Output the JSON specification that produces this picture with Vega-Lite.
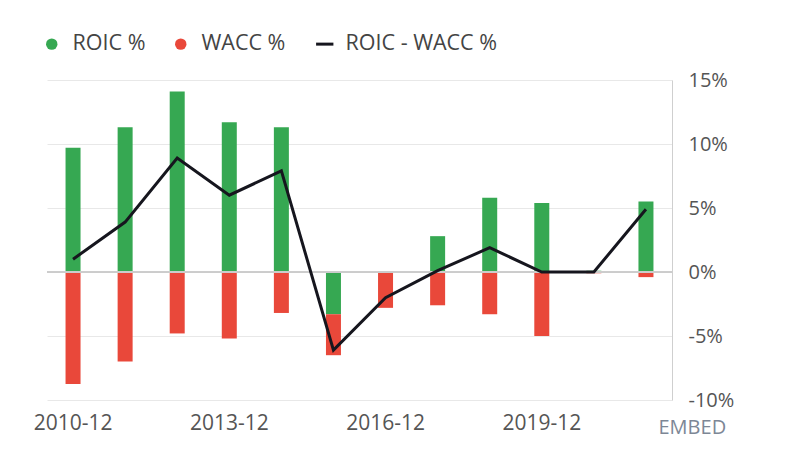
{
  "$schema": "https://vega.github.io/schema/vega-lite/v6.json",
  "autosize": "none",
  "width": 625,
  "height": 320,
  "padding": {"left": 47, "top": 80, "right": 128, "bottom": 59},
  "background": "white",
  "config": {
    "font": "Open Sans",
    "view": {"stroke": null}
  },
  "datasets": {
    "bars": [
      {"year": "2010-12", "series": "ROIC %", "value": 9.7},
      {"year": "2010-12", "series": "WACC %", "value": -8.75},
      {"year": "2011-12", "series": "ROIC %", "value": 11.3},
      {"year": "2011-12", "series": "WACC %", "value": -7.0},
      {"year": "2012-12", "series": "ROIC %", "value": 14.1},
      {"year": "2012-12", "series": "WACC %", "value": -4.8},
      {"year": "2013-12", "series": "ROIC %", "value": 11.7},
      {"year": "2013-12", "series": "WACC %", "value": -5.2},
      {"year": "2014-12", "series": "ROIC %", "value": 11.3},
      {"year": "2014-12", "series": "WACC %", "value": -3.2},
      {"year": "2015-12", "series": "ROIC %", "value": -3.3},
      {"year": "2015-12", "series": "WACC %", "value": -3.2},
      {"year": "2016-12", "series": "ROIC %", "value": 0.05},
      {"year": "2016-12", "series": "WACC %", "value": -2.8},
      {"year": "2017-12", "series": "ROIC %", "value": 2.8},
      {"year": "2017-12", "series": "WACC %", "value": -2.6},
      {"year": "2018-12", "series": "ROIC %", "value": 5.8},
      {"year": "2018-12", "series": "WACC %", "value": -3.3},
      {"year": "2019-12", "series": "ROIC %", "value": 5.4},
      {"year": "2019-12", "series": "WACC %", "value": -5.0},
      {"year": "2020-12", "series": "ROIC %", "value": 0.1},
      {"year": "2020-12", "series": "WACC %", "value": -0.1},
      {"year": "2021-12", "series": "ROIC %", "value": 5.5},
      {"year": "2021-12", "series": "WACC %", "value": -0.4}
    ],
    "diff": [
      {"year": "2010-12", "series": "ROIC - WACC %", "value": 1.0},
      {"year": "2011-12", "series": "ROIC - WACC %", "value": 3.9},
      {"year": "2012-12", "series": "ROIC - WACC %", "value": 8.9},
      {"year": "2013-12", "series": "ROIC - WACC %", "value": 6.0},
      {"year": "2014-12", "series": "ROIC - WACC %", "value": 7.9},
      {"year": "2015-12", "series": "ROIC - WACC %", "value": -6.1},
      {"year": "2016-12", "series": "ROIC - WACC %", "value": -2.0},
      {"year": "2017-12", "series": "ROIC - WACC %", "value": 0.1},
      {"year": "2018-12", "series": "ROIC - WACC %", "value": 1.9},
      {"year": "2019-12", "series": "ROIC - WACC %", "value": 0.0},
      {"year": "2020-12", "series": "ROIC - WACC %", "value": 0.0},
      {"year": "2021-12", "series": "ROIC - WACC %", "value": 4.9}
    ]
  },
  "encoding": {
    "x": {
      "field": "year",
      "type": "ordinal",
      "sort": null,
      "scale": {"paddingInner": 0, "paddingOuter": 0},
      "axis": {
        "title": null,
        "values": ["2010-12", "2013-12", "2016-12", "2019-12"],
        "labelAngle": 0,
        "ticks": false,
        "domain": false,
        "labelPadding": 12,
        "labelFontSize": 21,
        "labelColor": "#555555",
        "grid": false
      }
    }
  },
  "layer": [
    {
      "data": {"name": "bars"},
      "mark": {"type": "bar", "size": 15},
      "encoding": {
        "y": {
          "field": "value",
          "type": "quantitative",
          "stack": "zero",
          "scale": {"domain": [-10, 15], "nice": false, "zero": false},
          "axis": {
            "orient": "right",
            "values": [-10, -5, 0, 5, 10, 15],
            "labelExpr": "datum.value + '%'",
            "labelFontSize": 20,
            "labelColor": "#555555",
            "labelPadding": 16,
            "ticks": false,
            "domain": true,
            "domainColor": "#cfcfcf",
            "gridColor": "#e8e8e8",
            "title": "EMBED",
            "titleAngle": 0,
            "titleAlign": "left",
            "titleBaseline": "top",
            "titleX": -14,
            "titleY": 337,
            "titleFontSize": 20,
            "titleFontWeight": "normal",
            "titleColor": "#7d8796"
          }
        },
        "color": {
          "field": "series",
          "type": "nominal",
          "scale": {
            "domain": ["ROIC %", "WACC %", "ROIC - WACC %"],
            "range": ["#36A852", "#E9483A", "#16161e"]
          },
          "legend": {
            "title": null,
            "orient": "none",
            "legendX": -6,
            "legendY": -47,
            "direction": "horizontal",
            "labelFontSize": 21.5,
            "labelColor": "#444444",
            "labelOffset": 10,
            "symbolSize": 130,
            "columnPadding": 24,
            "symbolType": "circle",
            "encode": {
              "symbols": {
                "update": {
                  "shape": {"signal": "datum.value === 'ROIC - WACC %' ? 'stroke' : 'circle'"},
                  "stroke": {"signal": "scale('color', datum.value)"},
                  "strokeWidth": {"signal": "datum.value === 'ROIC - WACC %' ? 3 : 0"},
                  "size": {"signal": "datum.value === 'ROIC - WACC %' ? 300 : 130"}
                }
              }
            }
          }
        },
        "order": {"field": "series", "type": "nominal"}
      }
    },
    {
      "data": {"name": "diff"},
      "mark": {"type": "rule", "color": "#cccccc", "strokeWidth": 1},
      "encoding": {"y": {"datum": 0}, "x": null}
    },
    {
      "data": {"name": "diff"},
      "mark": {"type": "line", "strokeWidth": 3},
      "encoding": {
        "y": {"field": "value", "type": "quantitative"},
        "color": {"field": "series", "type": "nominal"}
      }
    }
  ]
}
